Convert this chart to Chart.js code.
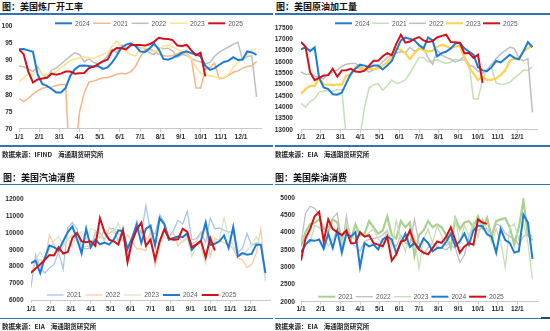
<!DOCTYPE html>
<html lang="zh-CN">
<head>
<meta charset="UTF-8">
<title>美国炼厂开工率 / 原油加工量 / 汽油消费 / 柴油消费</title>
<style>
    body {
        margin: 0;
        width: 550px;
        height: 331px;
        background: #fff;
        position: relative;
        overflow: hidden;
        font-family: "Noto Sans CJK SC", "Noto Sans", sans-serif;
    }
    .title {
        position: absolute;
        font-size: 9px;
        line-height: 9px;
        font-weight: bold;
        color: #111;
        white-space: nowrap;
    }
    .rule {
        position: absolute;
        background: #2E75B6;
    }
    .source {
        position: absolute;
        font-size: 6.5px;
        line-height: 6.5px;
        font-weight: bold;
        color: #222;
        white-space: nowrap;
    }
    canvas {
        position: absolute;
    }
</style>
</head>
<body>
    <div class="title" style="left:2px; top:2px;">图：美国炼厂开工率</div>
    <div class="rule" style="left:0; top:13.3px; width:273px; height:1.4px;"></div>
    <canvas id="refineryChart" width="272" height="130" style="left:0; top:16px;"></canvas>
    <div class="rule" style="left:0; top:145px; width:273px; height:1.6px;"></div>
    <div class="source" style="left:2px; top:150.5px;">数据来源：IFIND&nbsp;&nbsp;&nbsp;&nbsp;海通期货研究所</div>

    <div class="title" style="left:276px; top:2px;">图：美国原油加工量</div>
    <div class="rule" style="left:275px; top:13.3px; width:275px; height:1.4px;"></div>
    <canvas id="crudeChart" width="275" height="130" style="left:275px; top:16px;"></canvas>
    <div class="rule" style="left:275px; top:145px; width:275px; height:1.6px;"></div>
    <div class="source" style="left:275px; top:151px;">数据来源：EIA&nbsp;&nbsp;&nbsp;&nbsp;海通期货研究所</div>

    <div class="title" style="left:3px; top:172.5px;">图：美国汽油消费</div>
    <div class="rule" style="left:0; top:183.7px; width:273px; height:1.4px;"></div>
    <canvas id="gasolineChart" width="272" height="128" style="left:0; top:188px;"></canvas>
    <div class="rule" style="left:0; top:317.5px; width:273px; height:1.6px;"></div>
    <div class="source" style="left:2px; top:322.5px;">数据来源：EIA&nbsp;&nbsp;&nbsp;&nbsp;海通期货研究所</div>

    <div class="title" style="left:275px; top:172.5px;">图：美国柴油消费</div>
    <div class="rule" style="left:275px; top:183.7px; width:275px; height:1.4px;"></div>
    <canvas id="dieselChart" width="275" height="128" style="left:275px; top:188px;"></canvas>
    <div class="rule" style="left:275px; top:317.5px; width:275px; height:1.6px;"></div>
    <div class="rule" style="left:541px; top:316.5px; width:9px; height:2.5px; background:#1F4E79;"></div>
    <div class="source" style="left:275px; top:322.8px;">数据来源：EIA&nbsp;&nbsp;&nbsp;&nbsp;海通期货研究所</div>

    <script src="https://cdn.jsdelivr.net/npm/chart.js"></script>
    <script>
        // x axis: weekly points, labelled at each month start
        const monthLabels = ['1/1', '2/1', '3/1', '4/1', '5/1', '6/1', '7/1', '8/1', '9/1', '10/1', '11/1', '12/1'];

        // 美国炼厂开工率 (%)
        const refinery2021 = [79.0, 78.0, 79.0, 80.2, 81.2, 81.9, 82.2, 82.3, 82.7, 83.0,
            83.0, 56.0, 62.0, 75.0, 80.5, 83.7, 84.0, 84.5, 85.0, 85.0,
            85.5, 86.0, 86.3, 86.2, 86.8, 88.3, 91.0, 93.0, 93.5, 92.8,
            91.9, 91.5, 91.3, 91.5, 92.0, 92.7, 92.3, 90.5, 82.0, 82.0,
            87.5, 88.0, 89.3, 84.7, 85.0, 85.7, 86.6, 87.0, 87.8, 88.3,
            88.5, 89.7];
        const refinery2022 = [88.4, 88.2, 87.6, 86.8, 88.2, 86.0, 85.0, 87.3, 87.8, 89.0,
            90.2, 91.3, 92.3, 91.8, 89.7, 90.5, 89.5, 89.0, 89.8, 91.5,
            93.3, 92.3, 94.5, 93.8, 94.3, 94.5, 93.7, 93.5, 92.3, 91.8,
            93.7, 93.5, 93.6, 92.8, 91.0, 91.8, 91.5, 90.6, 90.0, 89.6,
            89.1, 89.5, 91.3, 92.5, 93.3, 94.0, 94.8, 95.4, 90.2, 91.2,
            91.4, 79.4];
        const refinery2023 = [83.8, 85.0, 86.2, 85.9, 87.7, 86.0, 85.9, 86.2, 86.8, 88.0,
            89.0, 90.0, 90.5, 90.8, 91.2, 90.8, 90.7, 91.2, 91.9, 92.4,
            94.2, 95.8, 94.0, 92.5, 91.7, 91.4, 93.3, 93.9, 93.2, 92.6,
            93.0, 94.2, 94.5, 94.0, 93.2, 92.6, 91.8, 90.5, 88.0, 86.3,
            85.8, 85.6, 85.3, 85.0, 85.1, 86.0, 88.0, 89.6, 90.3, 91.8,
            93.2, 93.3];
        const refinery2024 = [93.3, 93.4, 93.0, 92.6, 86.0, 83.2, 82.6, 81.7, 80.7, 80.7,
            82.0, 85.5, 87.5, 88.5, 88.6, 88.4, 88.3, 88.4, 87.6, 88.0,
            89.5, 91.5, 93.8, 94.7, 95.1, 94.3, 92.7, 92.5, 93.5, 95.0,
            93.3, 90.5, 90.3, 90.8, 91.5, 92.3, 92.7, 92.2, 91.8, 91.3,
            88.5, 87.3, 87.8, 88.8, 89.6, 90.0, 91.0, 90.2, 90.3, 92.7,
            92.4, 91.7];
        const refinery2025 = [93.3, 91.9, 86.8, 83.6, 84.5, 84.8, 85.0, 86.2, 85.9, 86.2,
            86.8, 86.8, 86.2, 86.3, 86.4, 87.8, 88.2, 89.0, 89.8, 90.3,
            92.8, 93.7, 93.6, 93.3, 94.6, 94.6, 94.6, 94.4, 94.8, 95.5,
            96.7, 96.4, 96.3, 96.0, 94.4, 94.3, 94.6, 93.0, 91.6, 92.3,
            85.4];

        // 美国原油加工量 (千桶/日)
        const crude2021 = [14180, 14000, 14250, 14380, 14660, 14730, 14730, 14700, 14770, 14770,
            12600, 11500, 12000, 12700, 14000, 14850, 15000, 15050, 14750, 14950,
            15200, 15050, 15100, 15220, 15500, 15850, 16200, 16200, 16000, 16050,
            16100, 16000, 15930, 15990, 16130, 16080, 16100, 15950, 14380, 14360,
            15210, 15700, 15700, 15080, 15010, 15030, 15100, 15300, 15450, 15630,
            15630, 15780];
        const crude2022 = [15560, 15450, 15470, 15400, 15300, 15250, 15450, 15550, 15650, 15800,
            15900, 15930, 15930, 15800, 15700, 15550, 15650, 15800, 16000, 16200,
            16300, 16400, 16450, 16400, 16650, 16480, 16550, 16650, 16180, 15900,
            16530, 16300, 16200, 16120, 16000, 16080, 16250, 15850, 15800, 15600,
            15500, 15650, 15900, 16150, 16350, 16500, 16650, 16600, 16180, 16050,
            16150, 13780];
        const crude2023 = [14590, 14800, 14950, 14950, 15300, 15010, 15000, 14980, 15000, 15000,
            15400, 15420, 15770, 15700, 15700, 15700, 15700, 15720, 15840, 15980,
            16250, 16600, 16530, 16390, 16120, 16390, 16600, 16520, 16460, 16500,
            16670, 16750, 16700, 16600, 16670, 16730, 16180, 15770, 15490, 15210,
            15350, 15210, 15210, 15280, 15420, 15630, 16050, 16140, 16120, 16460,
            16600, 16740];
        const crude2024 = [16560, 16650, 16480, 16640, 15300, 14880, 14800, 14580, 14560, 14650,
            15080, 15490, 15700, 15880, 15840, 15770, 15840, 15840, 15670, 15840,
            16050, 16500, 16950, 17080, 17020, 16950, 16740, 16600, 17080, 16950,
            16250, 16390, 16460, 16600, 16810, 16850, 16600, 16460, 16320, 15770,
            15630, 15590, 15770, 16050, 15980, 16140, 16320, 16180, 16120, 16460,
            16880, 16650];
        const crude2025 = [16880, 16670, 15550, 15200, 15300, 15400, 15420, 15700, 15350, 15630,
            15640, 15700, 15580, 15560, 15620, 15840, 16050, 16050, 16250, 16390,
            16300, 16800, 17200, 16850, 16900, 17020, 17100, 16950, 16880, 16920,
            17080, 17150, 17200, 16880, 16870, 16840, 16390, 16400, 16180, 16320,
            15080];

        // 美国汽油消费 (千桶/日)
        const gasoline2021 = [6750, 8700, 7950, 7600, 7900, 8120, 8860, 7850, 10300, 10620,
            10250, 9140, 9050, 9100, 10060, 10000, 9600, 10250, 10250, 9500,
            10340, 8680, 9510, 10710, 9970, 11630, 10060, 9950, 11080, 10620,
            9780, 10150, 10750, 10520, 11280, 9600, 9650, 10060, 9420, 10890,
            10250, 10300, 10150, 10060, 10060, 8860, 9050, 9970, 9230, 9400,
            9300, 7650];
        const gasoline2022 = [7570, 8300, 8400, 8250, 9880, 9320, 8800, 9200, 9600, 9880,
            9500, 8950, 9230, 9140, 9880, 9690, 10150, 9970, 10150, 9970,
            9510, 9880, 9510, 9050, 9050, 8950, 10150, 8030, 9200, 10100,
            9800, 9970, 9230, 9510, 9780, 9320, 9510, 9970, 10300, 8580,
            9690, 9510, 9420, 9320, 9050, 8490, 8400, 7940, 8120, 8770,
            10250, 7300];
        const gasoline2023 = [8120, 8400, 8860, 8400, 9000, 9510, 9780, 9320, 9690, 9140,
            9970, 10060, 9600, 10250, 10150, 9780, 9510, 10340, 9970, 10620,
            9780, 9140, 9780, 10060, 10250, 9600, 9880, 9510, 9320, 9780,
            9600, 9510, 9780, 9420, 9690, 8600, 9320, 9050, 8200, 9780,
            9420, 9600, 10890, 9780, 9230, 8580, 8680, 8950, 9230, 9780,
            9230, 7100];
        const gasoline2024 = [8200, 8350, 7600, 8500, 9250, 9150, 8950, 9500, 10050, 10380,
            9650, 8780, 10250, 9150, 9600, 9320, 9420, 9300, 9600, 10150,
            10100, 9050, 9700, 10500, 9400, 10250, 10430, 9250, 10880, 10520,
            9600, 9700, 9780, 9750, 9970, 9000, 9300, 9550, 10620, 9280,
            9350, 9500, 9850, 9100, 10350, 8600, 8800, 8700, 8750, 9300,
            9300, 7600];
        const gasoline2025 = [7620, 7880, 8120, 8400, 8680, 8650, 9140, 8770, 8860, 9700,
            10000, 9500, 9450, 9500, 9230, 10880, 10050, 9600, 9500, 9300,
            10150, 8250, 9500, 10200, 10620, 9230, 9600, 8400, 9500, 10220,
            9690, 9600, 9620, 10250, 10060, 9140, 9320, 9510, 8550, 9690,
            8950];

        // 美国柴油消费 (千桶/日)
        const diesel2021 = [3600, 4010, 4240, 4280, 4380, 4150, 4010, 4380, 4290, 3830,
            4150, 3780, 4240, 3920, 3970, 4330, 4150, 3970, 4060, 4470,
            3920, 3830, 4330, 4150, 4290, 3330, 3920, 4060, 4330, 4150,
            4240, 4150, 3920, 3560, 4420, 4100, 4290, 4330, 4150, 4470,
            4150, 4420, 3880, 4330, 4380, 4420, 4150, 3650, 4150, 4930,
            3920, 3780];
        const diesel2022 = [3690, 4560, 4760, 4700, 4520, 4100, 4150, 4420, 4560, 3560,
            4470, 3700, 3600, 3460, 3750, 3800, 3830, 3850, 3920, 4060,
            3700, 3600, 3920, 3700, 3650, 4380, 3700, 3370, 3560, 3700,
            3600, 3560, 3500, 3620, 3550, 3140, 3350, 3880, 4150, 4060,
            4150, 4100, 3980, 4240, 4200, 3980, 3880, 3820, 3650, 3880,
            3970, 3880];
        const diesel2023 = [3760, 3900, 3700, 4200, 4150, 3950, 3600, 3800, 4100, 3700,
            4250, 3950, 3780, 4050, 3900, 4000, 4100, 3800, 3700, 4050,
            3600, 4350, 3800, 3450, 4050, 3900, 2950, 3800, 4100, 3700,
            4200, 3900, 3600, 3950, 4400, 3700, 4200, 3900, 4300, 3850,
            4400, 4100, 3700, 4100, 3750, 3000, 4150, 4250, 3800, 4300,
            3700, 2650];
        const diesel2024 = [3420, 3650, 3780, 3760, 3800, 3530, 3970, 3555, 4050, 3420,
            3970, 3880, 4010, 3000, 3690, 3600, 3650, 3510, 3800, 3880,
            3800, 3400, 3700, 3970, 3580, 3700, 3550, 3830, 3700, 3460,
            3550, 3560, 3740, 3970, 3600, 3750, 3970, 3650, 4060, 4200,
            4180, 3950, 3880, 3420, 4100, 3780, 3700, 3420, 3460, 4520,
            4290, 3240];
        const diesel2025 = [3190, 3830, 4100, 4470, 4600, 3740, 4380, 4100, 4010, 3920,
            4060, 3690, 3700, 4010, 3880, 3920, 3690, 3650, 3600, 3880,
            3190, 3370, 3740, 3780, 4060, 3690, 3510, 3420, 3370, 3550,
            3740, 3700, 3880, 4150, 3780, 3420, 3600, 3690, 3650, 4380,
            4290, 4250];

        const WEEKS_PER_YEAR = 52;
        const tickFont = { family: '"Liberation Sans", Arial, sans-serif', size: 6.6, weight: 'bold' };
        const tickColor = '#2b2b2b';

        // legend drawn inside the plot area, like the original workbook charts
        const insideLegend = {
            id: 'insideLegend',
            afterDatasetsDraw(chart, args, opts) {
                const ctx = chart.ctx;
                ctx.save();
                ctx.font = '6.6px "Liberation Sans", Arial, sans-serif';
                ctx.textBaseline = 'middle';
                opts.order.forEach((label, k) => {
                    const ds = chart.data.datasets.find(d => d.label === label);
                    const x = opts.x + k * opts.pitch;
                    ctx.strokeStyle = ds.borderColor;
                    ctx.lineWidth = Math.min(ds.borderWidth, 2);
                    ctx.beginPath();
                    ctx.moveTo(x, opts.y);
                    ctx.lineTo(x + 17, opts.y);
                    ctx.stroke();
                    ctx.fillStyle = '#595959';
                    ctx.fillText(label, x + 20, opts.y + 0.5);
                });
                ctx.restore();
            }
        };

        function line(label, values, color, width, order) {
            return {
                label: label,
                data: values.map((v, i) => ({ x: i, y: v })),
                borderColor: color,
                backgroundColor: color,
                borderWidth: width,
                pointRadius: 0,
                tension: 0,
                fill: false,
                order: order
            };
        }

        function drawPanel(id, cfg) {
            new Chart(document.getElementById(id), {
                type: 'line',
                data: { datasets: cfg.datasets },
                options: {
                    responsive: false,
                    animation: false,
                    events: [],
                    layout: { padding: { top: cfg.padTop, right: cfg.padRight, bottom: 0, left: 0 } },
                    plugins: {
                        legend: { display: false },
                        tooltip: { enabled: false },
                        insideLegend: cfg.legend
                    },
                    scales: {
                        x: {
                            type: 'linear',
                            min: 0,
                            max: WEEKS_PER_YEAR,
                            afterBuildTicks: (scale) => {
                                scale.ticks = monthLabels.map((_, k) => ({ value: k * WEEKS_PER_YEAR / 12 }));
                            },
                            afterFit: (scale) => { scale.height = cfg.xh; },
                            grid: { display: true, drawOnChartArea: false, drawTicks: true, tickLength: 3, color: '#D0D0D0' },
                            border: { display: true, color: '#C8C8C8' },
                            ticks: {
                                autoSkip: false,
                                maxRotation: 0,
                                padding: cfg.xPad,
                                font: tickFont,
                                color: tickColor,
                                callback: (value, index) => monthLabels[index]
                            }
                        },
                        y: {
                            min: cfg.ymin,
                            max: cfg.ymax,
                            afterFit: (scale) => { scale.width = cfg.yw; },
                            grid: { display: false, drawTicks: false },
                            border: { display: false },
                            ticks: {
                                stepSize: cfg.step,
                                padding: cfg.yPad,
                                font: tickFont,
                                color: tickColor,
                                callback: (v) => String(v)
                            }
                        }
                    }
                },
                plugins: [insideLegend]
            });
        }

        const RED = '#D0121B';
        const BLUE = '#1C7CD5';

        drawPanel('refineryChart', {
            ymin: 70, ymax: 100, step: 5,
            yw: 19, yPad: 6.5, xh: 17, xPad: 1, padTop: 5, padRight: 10.8,
            legend: { order: ['2024', '2021', '2022', '2023', '2025'], x: 55, y: 7.3, pitch: 38.3 },
            datasets: [
                line('2024', refinery2024, BLUE, 2, 1),
                line('2021', refinery2021, '#F8B58A', 1.5, 4),
                line('2022', refinery2022, '#BFBFBF', 1.5, 3),
                line('2023', refinery2023, '#FFE38A', 1.5, 2),
                line('2025', refinery2025, RED, 2, 0)
            ]
        });

        drawPanel('crudeChart', {
            ymin: 13000, ymax: 17500, step: 500,
            yw: 26, yPad: 8, xh: 16, xPad: 0.5, padTop: 5.7, padRight: 13,
            legend: { order: ['2024', '2021', '2022', '2023', '2025'], x: 60, y: 7.3, pitch: 37 },
            datasets: [
                line('2024', crude2024, BLUE, 2, 1),
                line('2021', crude2021, '#C5E0B4', 1.5, 4),
                line('2022', crude2022, '#BFBFBF', 1.5, 3),
                line('2023', crude2023, '#FFD34D', 2.2, 2),
                line('2025', crude2025, RED, 2, 0)
            ]
        });

        drawPanel('gasolineChart', {
            ymin: 6000, ymax: 12000, step: 1000,
            yw: 31, yPad: 7.4, xh: 16, xPad: 2, padTop: 3.7, padRight: 2,
            legend: { order: ['2021', '2022', '2023', '2024', '2025'], x: 46.7, y: 107, pitch: 38.75 },
            datasets: [
                line('2021', gasoline2021, '#A9C4EB', 1.3, 4),
                line('2022', gasoline2022, '#F8CBAD', 1.3, 3),
                line('2023', gasoline2023, '#D5E8C4', 1.3, 2),
                line('2024', gasoline2024, BLUE, 2, 1),
                line('2025', gasoline2025, RED, 2, 0)
            ]
        });

        drawPanel('dieselChart', {
            ymin: 2000, ymax: 5000, step: 500,
            yw: 26, yPad: 6, xh: 14.3, xPad: 0.5, padTop: 4.3, padRight: 13,
            legend: { order: ['2021', '2022', '2023', '2024', '2025'], x: 43.3, y: 108.7, pitch: 37.7 },
            datasets: [
                line('2021', diesel2021, '#A9D18E', 2.2, 4),
                line('2022', diesel2022, '#BFBFBF', 1.3, 3),
                line('2023', diesel2023, '#C5E0B4', 1.3, 2),
                line('2024', diesel2024, BLUE, 2, 1),
                line('2025', diesel2025, RED, 2, 0)
            ]
        });
    </script>
</body>
</html>
